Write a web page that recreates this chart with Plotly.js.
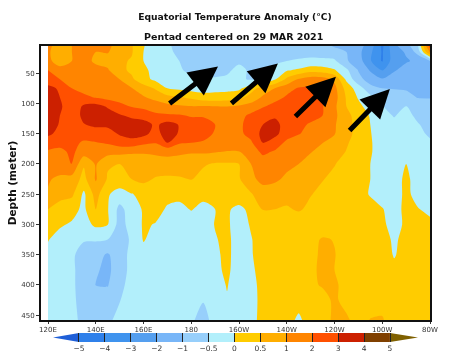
<!DOCTYPE html>
<html>
<head>
<meta charset="utf-8">
<script src="https://cdn.plot.ly/plotly-3.0.1.min.js"></script>
<style>
html,body{margin:0;padding:0;background:#fff;}
#chart{width:449px;height:355px;filter:blur(0.4px);}
</style>
</head>
<body>
<div id="chart"></div>
<script>
const longitudes = [120,125,130,135,140,145,150,155,160,165,170,175,180,185,190,195,200,205,210,215,220,225,230,235,240,245,250,255,260,265,270,275,280];
const depths = [5,15,30,45,60,75,90,105,120,135,150,165,180,200,225,250,275,300,325,350,375,400,425,458];
const anomaly = [
[1.2,.8,1.0,1.3,1.05,1.2,.8,.55,.03,-.3,-.45,-.6,-.8,-.85,-.85,-.8,-.85,-.8,-.8,-.85,-.8,-.75,-.8,-.85,-1.1,-1.1,-1.6,-2.5,-4.2,-2.2,-1.5,-.5,2.5],
[1.1,.8,1.0,1.3,1.0,1.05,.8,.55,.0,-.3,-.45,-.55,-.8,-.9,-.9,-.85,-.8,-.8,-.85,-.95,-.8,-.65,-.65,-.7,-.8,-1.0,-1.7,-2.8,-4.1,-2.4,-1.9,-.8,1.2],
[1.2,.8,1.0,1.2,.95,.85,.6,.45,0,-.3,-.42,-.5,-.7,-.75,-.75,-.65,-.55,-.65,-.65,-.6,-.5,-.45,-.4,-.4,-.42,-.95,-1.5,-2.9,-4.1,-2.4,-2.1,-1.8,-1.1],
[2.0,1.3,1.3,1.2,1.2,1.1,.65,.4,.1,-.15,-.35,-.45,-.6,-.65,-.6,-.55,-.42,-.55,-.55,-.35,-.05,.08,.3,.25,.05,-.4,-1.05,-2.1,-3.1,-2.1,-1.6,-1.4,-1.2],
[2.6,2.0,1.6,1.4,1.3,1.15,1.0,.6,.15,-.1,-.2,-.3,-.4,-.45,-.47,-.45,-.42,-.55,-.45,-.05,.6,1.1,1.5,1.4,.9,-.1,-.85,-1.4,-1.9,-1.5,-1.2,-1.15,-1.05],
[3.2,2.9,2.0,1.7,1.6,1.45,1.25,1.05,.75,.45,0,-.1,-.2,-.2,-.15,-.15,-.1,.3,.7,1.0,1.6,2.1,2.1,1.9,1.3,.3,-.25,-.85,-1.0,-1.05,-1.1,-1.1,-1.05],
[3.3,3.0,2.3,2.2,1.95,1.7,1.5,1.3,1.1,.85,.65,.55,.4,.2,.2,.25,.35,.7,1.15,1.6,2.15,2.6,2.5,2.0,1.4,.45,-.05,-.35,-.55,-.75,-.85,-1.05,-1.05],
[3.5,3.2,2.2,3.2,3.4,2.9,2.4,1.95,1.8,1.55,1.3,1.15,1.05,1.1,1.05,1.0,1.15,1.4,1.9,2.4,2.8,2.75,2.6,2.05,1.2,.5,.15,-.25,-.48,-.65,-.48,-.7,-.8],
[3.6,3.0,2.3,3.3,3.5,3.4,3.1,2.8,2.5,2.2,2.15,2.1,1.9,1.85,1.5,1.4,1.7,2.2,2.7,2.85,2.7,2.5,2.3,2.0,1.25,.6,.35,-.05,-.4,-.52,-.4,-.58,-.7],
[3.6,2.9,2.3,2.95,3.2,3.2,3.4,3.5,3.5,2.8,3.4,2.95,2.5,2.6,2.0,1.6,1.75,2.5,3.0,3.3,2.6,2.2,1.9,1.5,1.1,.65,.35,0,-.3,-.42,-.35,-.48,-.6],
[3.2,2.7,2.2,2.3,2.5,2.6,3.1,3.4,3.3,2.6,3.5,2.9,2.4,2.35,1.9,1.55,1.8,2.3,3.3,3.3,2.4,2.05,1.7,1.3,1.05,.65,.35,.02,-.2,-.3,-.3,-.42,-.55],
[2.4,2.3,2.2,1.9,1.95,2.1,2.5,2.6,2.2,2.05,3.0,2.1,2.0,1.9,1.6,1.4,1.5,1.85,3.0,2.5,1.8,1.5,1.2,1.02,.8,.55,.3,.03,-.15,-.2,-.25,-.35,-.45],
[1.9,1.75,2.2,1.5,1.5,1.4,1.3,1.15,1.1,1.15,1.2,1.2,1.1,1.15,1.05,.98,.98,1.5,2.2,1.9,1.6,1.3,1.05,.85,.7,.48,.25,.02,-.1,-.1,-.15,-.25,-.35],
[1.7,1.6,2.05,.55,1.1,.55,.5,.65,.75,.8,.85,.75,.7,.55,.45,.45,.5,1.0,1.5,1.5,1.25,1.0,.8,.65,.52,.35,.15,0,-.05,-.05,0,-.15,-.25],
[1.1,.9,.8,.35,1.1,.45,.3,.5,.65,.45,.4,.45,.52,.35,.3,.3,.45,.9,1.25,1.2,.9,.75,.6,.52,.4,.3,.15,0,-.05,-.1,.05,-.1,-.2],
[.95,.7,.6,-.1,.7,.05,-.2,-.02,.1,.2,.12,.1,.2,.1,.1,.15,.25,.45,.8,.7,.65,.6,.52,.4,.3,.2,.1,-.02,-.15,-.2,.1,-.15,-.2],
[.5,.25,.15,-.1,.5,.03,-.65,-.25,.05,.15,-.05,-.1,.02,-.1,0,.05,-.1,.1,.52,.5,.45,.55,.4,.3,.25,.2,.15,.1,.02,-.15,.1,.02,-.1],
[.2,.05,-.05,-.2,.1,.02,-.7,-.3,.05,-.02,-.2,-.25,-.2,-.2,.02,.05,-.15,.03,.15,.2,.25,.2,.2,.2,.2,.2,.2,.15,.05,-.1,.05,.1,.1],
[.02,-.15,-.2,-.45,-.45,-.5,-.85,-.4,.03,-.15,-.25,-.25,-.25,-.25,-.03,.1,-.2,-.02,.15,.2,.25,.3,.35,.55,.48,.3,.25,.25,.12,-.05,.1,.2,.2],
[-.1,-.2,-.4,-.75,-.85,-1.1,-.75,-.35,-.15,-.2,-.25,-.25,-.25,-.2,-.08,.1,-.2,-.02,.1,.15,.2,.25,.35,.6,.52,.3,.25,.25,.2,-.03,.15,.2,.2],
[-.15,-.2,-.4,-.75,-.95,-1.2,-.75,-.35,-.15,-.2,-.25,-.25,-.25,-.22,-.1,.08,-.2,-.05,.1,.15,.2,.25,.4,.6,.5,.35,.25,.25,.2,.1,.15,.2,.2],
[-.2,-.25,-.42,-.7,-1.02,-1.05,-.65,-.3,-.15,-.2,-.25,-.25,-.25,-.25,-.15,.02,-.2,-.1,.1,.15,.2,.25,.4,.55,.55,.4,.25,.25,.2,.2,.2,.2,.2],
[-.2,-.25,-.42,-.65,-.75,-.8,-.52,-.3,-.15,-.2,-.25,-.3,-.4,-.47,-.2,-.03,-.2,-.12,.1,.15,.2,.2,.25,.3,.6,.3,.25,.25,.3,.2,.2,.2,.2],
[-.2,-.25,-.4,-.6,-.65,-.6,-.35,-.3,-.15,-.2,-.25,-.3,-.42,-.7,-.3,-.1,-.2,-.1,.1,.15,.2,-.1,.25,.3,.6,.6,.25,.52,.55,.2,.2,.2,.2]
];
const levels = [-5,-4,-3,-2,-1,-0.5,0,0.5,1,2,3,4,5];
const levelLabels = ['−5','−4','−3','−2','−1','−0.5','0','0.5','1','2','3','4','5'];
const palette = ['#1f5fd8','#2f80ea','#3f93ee','#559fef','#78b6f8','#97cffb','#b2effb','#ffcc00','#ffae00','#ff8500','#ff5000','#cc2000','#804000','#7f6000'];
const depthTicks = [50,100,150,200,250,300,350,400,450];
const lonTicks = [120,140,160,180,200,220,240,260,280];
const lonLabels = ['120E','140E','160E','180','160W','140W','120W','100W','80W'];
const arrowTails = [[170.3,102],[196.2,102],[223,124],[245.7,147]];
const arrowHeads = [[191.2,39],[216.3,34],[240.6,56],[263.2,76]];

// Levels are unevenly spaced, so contour in "level index" space.
function levelIndex(v){
  if(v<=levels[0]) return v-levels[0];
  for(let i=0;i<levels.length-1;i++){
    if(v<=levels[i+1]) return i+(v-levels[i])/(levels[i+1]-levels[i]);
  }
  return levels.length-1+(v-levels[levels.length-1]);
}
const zIndex = anomaly.map(r=>r.map(levelIndex));
const nLev = levels.length;
const contourScale = palette.map((c,i)=>[i/nLev,c]);

const barCells = levels.slice(0,-1).map((_,i)=>i+0.5);
const barZ = [levels.slice(0,-1).map((_,i)=>i)];
const barScale = levels.slice(0,-1).map((_,i)=>[i/(nLev-2),palette[i+1]]);

const W=449,H=355;
const fx=p=>p/W, fy=p=>1-p/H;
const textFont={family:'"DejaVu Sans",sans-serif',color:'#222'};

const traces=[
 {type:'contour',x:longitudes,y:depths,z:zIndex,xaxis:'x',yaxis:'y',
  autocontour:false,contours:{start:0,end:nLev-1,size:1,coloring:'fill',showlines:false},
  line:{width:0,smoothing:0.85},colorscale:contourScale,showscale:false,hoverinfo:'skip'},
 {type:'heatmap',x:barCells,y:[0.5],z:barZ,xaxis:'x2',yaxis:'y2',colorscale:barScale,zmin:0,zmax:nLev-2,showscale:false,hoverinfo:'skip'},
 {type:'scatter',mode:'lines',x:[0,-1,0,0],y:[0,0.5,1,0],xaxis:'x2',yaxis:'y2',fill:'toself',fillcolor:palette[0],line:{width:0,color:palette[0]},hoverinfo:'skip',showlegend:false},
 {type:'scatter',mode:'lines',x:[nLev-1,nLev+0.08,nLev-1,nLev-1],y:[0,0.5,1,0],xaxis:'x2',yaxis:'y2',fill:'toself',fillcolor:palette[nLev],line:{width:0,color:palette[nLev]},hoverinfo:'skip',showlegend:false}
];

const arrows=arrowTails.map((t,i)=>({
  x:arrowHeads[i][0],y:arrowHeads[i][1],ax:t[0],ay:t[1],xref:'x',yref:'y',axref:'x',ayref:'y',
  text:'',showarrow:true,arrowhead:2,arrowsize:1.15,arrowwidth:5,arrowcolor:'#000',standoff:0,startstandoff:0
}));

const layout={
  width:W,height:H,margin:{l:0,r:0,t:0,b:0},paper_bgcolor:'#fff',plot_bgcolor:'#fff',showlegend:false,
  title:{text:'Equatorial Temperature Anomaly (°C)',x:235/W,xanchor:'center',y:1-17/H,yanchor:'middle',font:{family:textFont.family,size:9.2,color:'#111',weight:'bold'}},
  xaxis:{domain:[fx(41),fx(430)],range:[117.07,280],tickmode:'array',tickvals:lonTicks,ticktext:lonLabels,ticks:'outside',ticklen:2,tickcolor:'#333',
    tickfont:{family:textFont.family,size:7,color:'#333'},showgrid:false,zeroline:false,showline:true,mirror:true,linecolor:'#111',linewidth:2,anchor:'y',layer:'above traces'},
  yaxis:{domain:[fy(320),fy(46)],range:[458,5],tickmode:'array',tickvals:depthTicks,ticks:'outside',ticklen:3,tickcolor:'#333',
    tickfont:{family:textFont.family,size:7,color:'#333'},showgrid:false,zeroline:false,showline:true,mirror:true,linecolor:'#111',linewidth:2,anchor:'x',layer:'above traces',
    title:{text:'Depth (meter)',standoff:3,font:{family:textFont.family,size:10.5,color:'#111',weight:'bold'}}},
  xaxis2:{domain:[fx(53),fx(418)],range:[-1,13.08],tickmode:'array',tickvals:levels.map((_,i)=>i),ticktext:levelLabels,ticks:'inside',ticklen:9,tickcolor:'#222',tickwidth:1,
    tickfont:{family:textFont.family,size:7.5,color:'#333'},showgrid:false,zeroline:false,showline:false,anchor:'y2',layer:'above traces'},
  yaxis2:{domain:[fy(342),fy(333)],range:[0,1],showticklabels:false,ticks:'',showgrid:false,zeroline:false,showline:false,anchor:'x2'},
  annotations:[
    {text:'Pentad centered on 29 MAR 2021',xref:'paper',yref:'paper',x:234/W,y:1-37/H,xanchor:'center',yanchor:'middle',showarrow:false,font:{family:textFont.family,size:9.5,color:'#111',weight:'bold'}}
  ].concat(arrows)
};
Plotly.newPlot('chart',traces,layout,{staticPlot:true,displayModeBar:false});
</script>
</body>
</html>
